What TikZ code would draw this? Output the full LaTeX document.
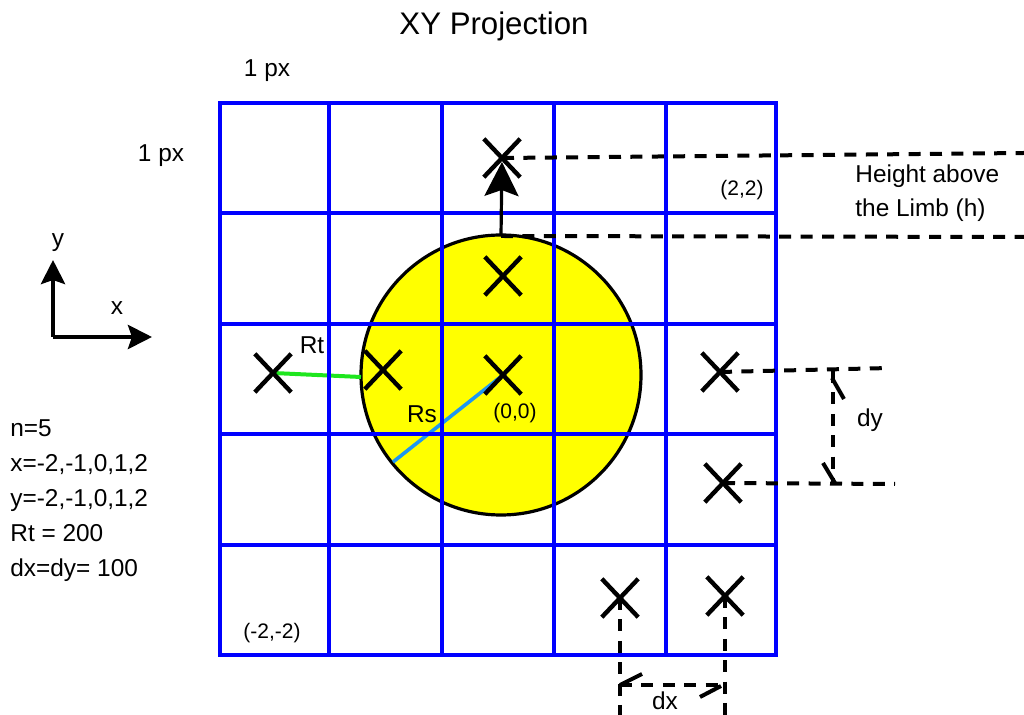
\documentclass[tikz,border=0pt]{standalone}
\usepackage{fontspec}
\setmainfont{Liberation Sans}
\usetikzlibrary{arrows.meta,shapes.misc}
\definecolor{cgrid}{HTML}{0000FF}
\definecolor{csun}{HTML}{FFFF00}
\definecolor{cgreen}{HTML}{1EE61E}
\definecolor{csky}{HTML}{1E96F0}
\definecolor{cink}{HTML}{000000}

\tikzset{
  gridline/.style={cgrid, line width=2.4pt, line cap=rect},
  sample/.style={draw=cink, cross out, line width=2.2pt, minimum width=16pt, minimum height=17pt, inner sep=0pt},
  guide/.style={cink, line width=2pt, dash pattern=on 6pt off 4.7pt},
  hook/.style={cink, line width=2pt},
  lbl/.style={font=\fontsize{12.2}{14}\selectfont, inner sep=0pt},
  smalllbl/.style={font=\fontsize{10.5}{12}\selectfont, inner sep=0pt},
}

\begin{document}
\begin{tikzpicture}[x=0.5pt, y=-0.5pt]
\useasboundingbox (0,0) rectangle (1024,715);
%% ------------------------------------------------------------------ disc
\fill[csun] (501,375) circle[radius=70pt];
\draw[cink, line width=1.6pt] (501,375) circle[radius=70pt];
% the sample points
\foreach \nm/\px/\py in {ptop/502/158, pup/503/276, porigin/503/375, pin/383/370, pleft/273/373,
                         pra/720/372, prb/723/483, pba/620/598, pbb/725/596}
  \coordinate (\nm) at (\px,\py);
\coordinate (rtend) at (361,377);
\coordinate (rsend) at (393,462);
% Rt and Rs
\draw[cgreen, line width=2pt] (pleft) -- (rtend);
\draw[csky, line width=1.8pt] (porigin) -- (rsend);
%% ------------------------------------------------------------------ grid
\foreach \x in {220,329,442,554,666,776}
  \draw[gridline] (\x,103) -- (\x,655);
\foreach \y in {103,213,324,434,545,655}
  \draw[gridline] (220,\y) -- (776,\y);
%% ------------------------------------------------------------------ height above the limb
\coordinate (limb) at (501,236);
\coordinate (htop) at (1024,153);
\coordinate (hbot) at (1024,237);
\draw[guide] (ptop) -- (htop);
\draw[guide] (limb) -- (hbot);
\draw[cink, line width=1.6pt, shorten >=2pt, -{Stealth[length=17pt, width=17pt, inset=3pt]}] (limb) -- (ptop);
% dy
\coordinate (dya) at (890,368);
\coordinate (dyb) at (895,484);
\coordinate (dytop) at (833,371);
\coordinate (dybot) at (833,484);
\draw[guide] (pra) -- (dya);
\draw[guide] (prb) -- (dyb);
\draw[guide] (dytop) -- (dybot);
\draw[hook] (832,378) -- (844,399);
\draw[hook] (823,463) -- (835,483);
% dx
\coordinate (dxa) at (620,715);
\coordinate (dxb) at (725,715);
\coordinate (dxleft) at (620,685);
\coordinate (dxright) at (725,685);
\draw[guide] (pba) -- (dxa);
\draw[guide] (pbb) -- (dxb);
\draw[guide] (dxleft) -- (dxright);
\draw[hook] (620,685) -- (642,674);
\draw[hook] (700,697) -- (721,686);
% crosses on top
\foreach \nm in {ptop,pup,porigin,pin,pleft,pra,prb,pba,pbb}
  \node[sample] (x\nm) at (\nm) {};
%% ------------------------------------------------------------------ axes
\coordinate (ax0) at (53,337);
\coordinate (axx) at (152,337);
\coordinate (axy) at (53,260);
\draw[cink, line width=2.2pt, -{Stealth[length=12pt, width=12pt, inset=2pt]}] (ax0) -- (axy);
\draw[cink, line width=2.2pt, -{Stealth[length=12pt, width=12pt, inset=2pt]}] (ax0) -- (axx);
\node[lbl, anchor=base] (ylbl) at (58,247) {y};
\node[lbl, anchor=base] (xlbl) at (117,315) {x};
%% ------------------------------------------------------------------ labels
\node[font=\fontsize{15.6}{18}\selectfont, inner sep=0pt, anchor=base] (title) at (494,35) {XY Projection};
\node[lbl, anchor=base] (pxtop) at (267,77) {1 px};
\node[lbl, anchor=base] (pxleft) at (161,162) {1 px};
\node[lbl, anchor=base west] (hta) at (855,183) {Height above};
\node[lbl, anchor=base west] (htb) at (855,217) {the Limb (h)};
\node[smalllbl] (ctr) at (742,190) {(2,2)};
\node[smalllbl] (cbl) at (272,633) {(-2,-2)};
\node[smalllbl] (corg) at (515,413) {(0,0)};
\node[lbl] (rtlbl) at (312,345) {Rt};
\node[lbl] (rslbl) at (422,414) {Rs};
\node[lbl] (dylbl) at (870,420) {dy};
\node[lbl] (dxlbl) at (665,701) {dx};
\foreach \txt [count=\i from 0] in {{n=5},{x=-2,-1,0,1,2},{y=-2,-1,0,1,2},{Rt = 200},{dx=dy= 100}}
  \node[lbl, anchor=base west] (info\i) at (10,{437+35*\i}) {\txt};
\end{tikzpicture}
\end{document}
